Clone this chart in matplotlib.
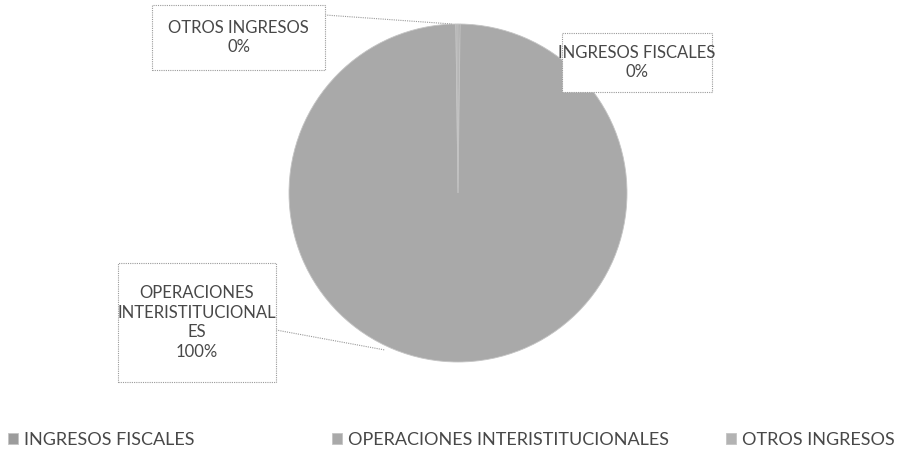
import matplotlib.pyplot as plt
from matplotlib.patches import Rectangle
from matplotlib.legend import Legend

# Data
CATEGORIES = ["INGRESOS FISCALES", "OPERACIONES INTERISTITUCIONALES", "OTROS INGRESOS"]
VALUES = [0.2, 99.6, 0.2]
BOX_LABELS = ["INGRESOS FISCALES", "OPERACIONES\nINTERISTITUCIONAL\nES", "OTROS INGRESOS"]
COLORS = ["#9c9c9c", "#a9a9a9", "#b3b3b3"]

W, H = 913, 453
FONT = "Lato"
TXT = "#484848"
GRID = "#9a9a9a"


def main():
    plt.rcParams['font.family'] = [FONT, 'DejaVu Sans']
    fig = plt.figure(figsize=(W / 100, H / 100), dpi=100)
    ax = fig.add_axes([0, 0, 1, 1])

    cx, cy, r = 458, H - 193, 169
    wedges, _ = ax.pie(VALUES, colors=COLORS, startangle=90, counterclock=False,
                       center=(cx, cy), radius=r, frame=True,
                       wedgeprops=dict(linewidth=0.6, edgecolor="#c4c4c4"))
    ax.set_xlim(0, W)
    ax.set_ylim(0, H)
    ax.set_aspect('equal')
    ax.axis('off')

    total = sum(VALUES)
    pct = [f"{v / total * 100:.0f}%" for v in VALUES]

    # box (x0, y0, x1, y1) in pixels from top-left, leader start, leader end
    boxes = [(562, 33, 712, 92), (118, 263, 276, 382), (152, 5, 325, 70)]
    leaders = [((612, 92), (594, 70)), ((276, 330), (385, 350)), ((325, 15), (452, 24))]
    for (x0, y0, x1, y1), (p0, p1), lab, pc in zip(boxes, leaders, BOX_LABELS, pct):
        ax.add_patch(Rectangle((x0, H - y1), x1 - x0, y1 - y0, facecolor="white",
                               edgecolor=GRID, linewidth=0.8, linestyle=(0, (1, 1)), zorder=3))
        ax.text((x0 + x1) / 2, H - (y0 + y1) / 2, lab + "\n" + pc, ha='center', va='center',
                fontsize=12, color=TXT, linespacing=1.3, zorder=4)
        ax.plot([p0[0], p1[0]], [H - p0[1], H - p1[1]], color=GRID, lw=0.8,
                linestyle=(0, (1, 1)), zorder=2)

    # one legend entry per category, placed like the reference
    starts = [8, 332, 726]
    for w, name, x in zip(wedges, CATEGORIES, starts):
        leg = Legend(ax, [w], [name], loc='center left', bbox_to_anchor=(x / W, 1 - 440 / H),
                     frameon=False, fontsize=13, handlelength=0.55, handleheight=0.55,
                     handletextpad=0.35, borderpad=0, borderaxespad=0, labelcolor=TXT)
        ax.add_artist(leg)

    fig.savefig("out.png", dpi=100)


if __name__ == "__main__":
    main()
